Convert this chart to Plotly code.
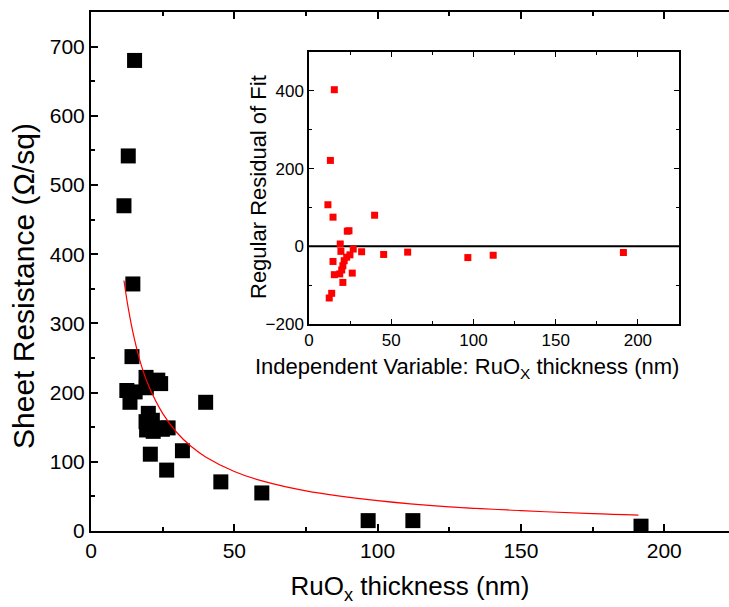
import plotly.graph_objects as go

# Main data: RuOx thickness (nm) vs sheet resistance (Ohm/sq)
thickness = [11.5, 12.5, 13.0, 13.6, 14.3, 14.6, 15.2, 15.4, 19.2, 19.3, 23.3, 24.3,
             20.0, 21.4, 19.2, 19.4, 21.7, 23.8, 24.9, 26.9, 20.7, 26.4, 31.9, 40.0,
             45.3, 59.6, 96.7, 112.3, 191.9]
resistance = [470, 203, 542, 186, 252, 357, 680, 201, 222, 207, 218, 213,
              170, 160, 158, 146, 144, 149, 147, 149, 111, 88, 116, 186,
              71, 55, 15, 15, 7]

# Fit curve
fit_x = [11.5, 13, 15, 17.5, 20, 25, 30, 35, 40, 50, 60, 75, 100, 125, 150, 175, 191]
fit_y = [362, 322, 280, 240, 211, 170, 142, 122, 107, 86, 72, 58, 44, 35, 29.5, 25, 23]

# Residuals (inset)
res_x = [11.5, 12.3, 13.0, 13.8, 14.6, 14.6, 15.4, 15.4, 19.0, 19.4, 23.3, 24.3,
         21.4, 20.6, 19.9, 18.7, 22.9, 24.9, 26.9, 20.6, 26.3, 32.0, 39.9, 45.4,
         60.0, 96.6, 112.0, 191.2]
res_y = [107, -133, 221, -121, -39, 75, 403, -73, 6, -13, 39, 40,
         -37, -50, -61, -71, -28, -22, -7, -93, -69, -14, 80, -21,
         -15, -29, -23, -16]

FONT = "Liberation Sans, Arial, sans-serif"

fig = go.Figure()
fig.add_trace(go.Scatter(x=thickness, y=resistance, mode="markers",
                         marker=dict(symbol="square", size=15, color="black"),
                         showlegend=False, xaxis="x", yaxis="y"))
fig.add_trace(go.Scatter(x=fit_x, y=fit_y, mode="lines",
                         line=dict(color="red", width=1.2, shape="spline"),
                         showlegend=False, xaxis="x", yaxis="y"))
fig.add_trace(go.Scatter(x=[0, 225], y=[0, 0], mode="lines",
                         line=dict(color="black", width=2),
                         showlegend=False, xaxis="x2", yaxis="y2", hoverinfo="skip"))
fig.add_trace(go.Scatter(x=res_x, y=res_y, mode="markers",
                         marker=dict(symbol="square", size=7, color="red"),
                         showlegend=False, xaxis="x2", yaxis="y2"))

main_ax = dict(showline=True, linecolor="black", linewidth=2, ticks="inside",
               ticklen=7, tickwidth=2, tickcolor="black", showgrid=False,
               zeroline=False, tickfont=dict(size=21, family=FONT, color="black"))
inset_ax = dict(showline=True, linecolor="black", linewidth=1.5, ticks="inside",
                ticklen=5, tickwidth=1.2, tickcolor="black", showgrid=False,
                zeroline=False, mirror="ticks",
                tickfont=dict(size=17, family=FONT, color="black"))

fig.update_layout(
    width=729, height=607,
    margin=dict(l=91, r=0, t=12, b=76),
    plot_bgcolor="white", paper_bgcolor="white",
    xaxis=dict(**main_ax, range=[0, 222.6], tick0=0, dtick=50, mirror="ticks",
               minor=dict(ticks="inside", dtick=25, ticklen=4, tickwidth=2, tickcolor="black"),
               title=dict(text="RuO<sub>x</sub> thickness (nm)", standoff=16,
                          font=dict(size=26, family=FONT, color="black")),
               domain=[0, 1]),
    yaxis=dict(**main_ax, range=[0, 750], tick0=0, dtick=100,
               minor=dict(ticks="inside", dtick=50, ticklen=4, tickwidth=2, tickcolor="black"),
               domain=[0, 1]),
    xaxis2=dict(**inset_ax, range=[0, 225], tick0=0, dtick=50, anchor="y2",
                minor=dict(ticks="inside", dtick=25, ticklen=3, tickwidth=1.2, tickcolor="black"),
                domain=[0.3417, 0.9216]),
    yaxis2=dict(**inset_ax, range=[-200, 500], tick0=-200, dtick=200, anchor="x2",
                minor=dict(ticks="inside", dtick=100, ticklen=3, tickwidth=1.2, tickcolor="black"),
                domain=[0.3988, 0.9229]),
    annotations=[
        dict(text="Sheet Resistance (Ω/sq)", textangle=-90, showarrow=False,
             xref="paper", yref="paper", x=(24 - 91) / 638, y=(531 - 286) / 519,
             xanchor="center", yanchor="middle",
             font=dict(size=30, family=FONT, color="black")),
        dict(text="Independent Variable: RuO<sub>X</sub> thickness (nm)", showarrow=False,
             xref="paper", yref="paper", x=(467 - 91) / 638, y=(531 - 368) / 519,
             xanchor="center", yanchor="middle",
             font=dict(size=22, family=FONT, color="black")),
        dict(text="Regular Residual of Fit", textangle=-90, showarrow=False,
             xref="paper", yref="paper", x=(259 - 91) / 638, y=(531 - 187) / 519,
             xanchor="center", yanchor="middle",
             font=dict(size=22, family=FONT, color="black")),
    ],
)

fig.write_html("out.html")
